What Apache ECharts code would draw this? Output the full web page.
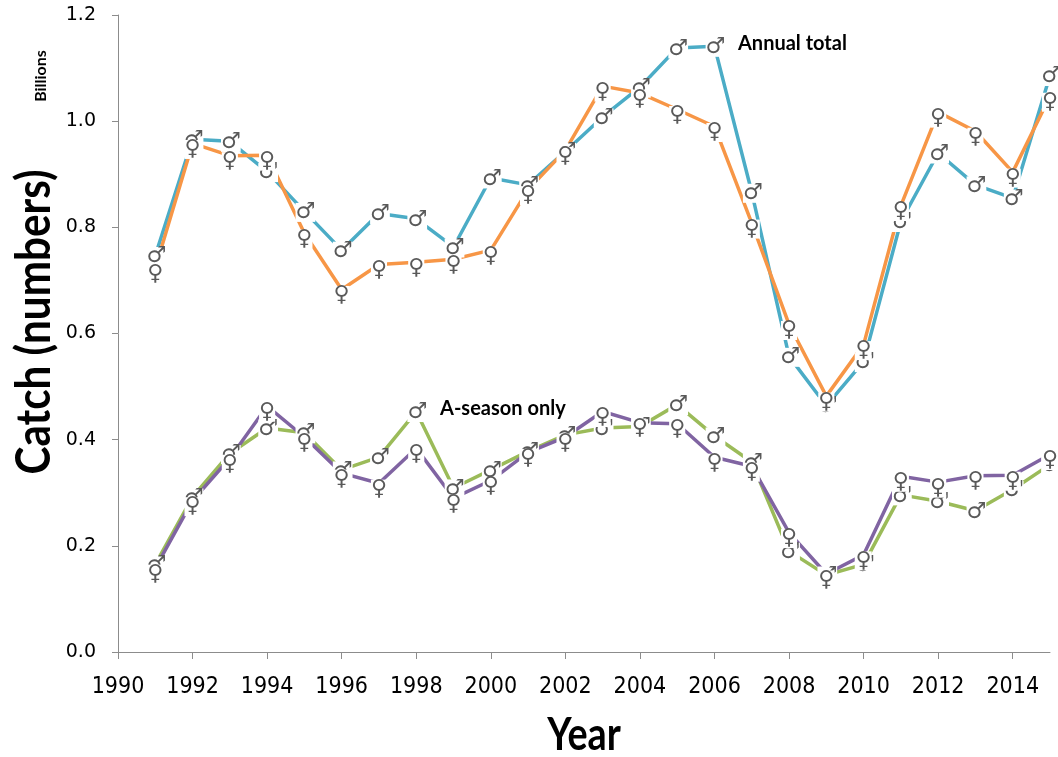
<!DOCTYPE html>
<html>
<head>
<meta charset="utf-8">
<script src="https://cdn.jsdelivr.net/npm/echarts@6/dist/echarts.min.js"></script>
<style>
html,body{margin:0;padding:0;background:#fff;}
#chart{width:1058px;height:757px;}
</style>
</head>
<body>
<div id="chart"></div>
<script>
// ---- data ----
var years = [1991,1992,1993,1994,1995,1996,1997,1998,1999,2000,2001,2002,2003,2004,2005,2006,2007,2008,2009,2010,2011,2012,2013,2014,2015];
var maleAnnual   = [0.747,0.966,0.962,0.905,0.830,0.757,0.826,0.816,0.763,0.893,0.880,0.943,1.008,1.064,1.138,1.141,0.866,0.557,0.464,0.547,0.811,0.940,0.880,0.855,1.086];
var femaleAnnual = [0.723,0.958,0.935,0.936,0.789,0.683,0.730,0.734,0.740,0.757,0.871,0.945,1.066,1.053,1.022,0.990,0.808,0.617,0.482,0.579,0.841,1.017,0.981,0.904,1.047];
var maleASeason  = [0.165,0.292,0.374,0.422,0.413,0.343,0.367,0.453,0.309,0.343,0.378,0.409,0.422,0.425,0.466,0.407,0.358,0.190,0.145,0.165,0.296,0.284,0.266,0.306,0.353];
var femaleASeason= [0.158,0.285,0.365,0.463,0.405,0.337,0.318,0.384,0.290,0.323,0.376,0.405,0.453,0.432,0.430,0.367,0.350,0.225,0.147,0.183,0.331,0.320,0.332,0.333,0.372];
var xTickValues = [1990,1992,1994,1996,1998,2000,2002,2004,2006,2008,2010,2012,2014];
var MALE = '\u2642', FEMALE = '\u2640';

function pairs(vals){ return years.map(function(y,i){ return [y, vals[i]]; }); }

function series(name, vals, color, glyph){
  var isMale = glyph === MALE;
  return {
    name: name, type: 'line', data: pairs(vals),
    symbol: 'circle', symbolSize: 2, showSymbol: true,
    itemStyle: { color: 'rgba(255,255,255,0)', borderWidth: 0 },
    lineStyle: { color: color, width: 3.5 },
    emphasis: { disabled: true },
    label: {
      show: true, position: 'inside',
      formatter: glyph,
      fontFamily: 'DejaVu Sans', fontSize: 22,
      color: '#595959',
      backgroundColor: '#ffffff',
      lineHeight: 19,
      padding: [0, 0],
      offset: isMale ? [1, 1] : [0, 6]
    }
  };
}

var chart = echarts.init(document.getElementById('chart'), null, {renderer: 'canvas'});
chart.setOption({
  animation: false,
  backgroundColor: '#ffffff',
  grid: { left: 118, right: 8, top: 15, bottom: 105, containLabel: false },
  xAxis: {
    type: 'value', min: 1990, max: 2015, interval: 2,
    splitLine: { show: false },
    axisLine: { lineStyle: { color: '#8c8c8c', width: 1 } },
    axisTick: { show: true, length: 7, lineStyle: { color: '#8c8c8c' }, customValues: xTickValues },
    axisLabel: {
      customValues: xTickValues,
      color: '#000', fontFamily: "'DejaVu Sans Condensed', Roboto", fontSize: 23, margin: 24,
      formatter: function(v){ return String(v); }
    }
  },
  yAxis: {
    type: 'value', min: 0, max: 1.2, interval: 0.2,
    splitLine: { show: false },
    axisLine: { show: true, lineStyle: { color: '#8c8c8c', width: 1 } },
    axisTick: { show: true, length: 6, lineStyle: { color: '#8c8c8c' } },
    axisLabel: {
      color: '#000', fontFamily: 'DejaVu Sans', fontSize: 19, margin: 22,
      formatter: function(v){ return v.toFixed(1); }
    }
  },
  series: [
    series('Male annual', maleAnnual, '#4BACC6', MALE),
    series('Female annual', femaleAnnual, '#F79646', FEMALE),
    series('Male A-season', maleASeason, '#9BBB59', MALE),
    series('Female A-season', femaleASeason, '#8064A2', FEMALE)
  ],
  graphic: [
    { type: 'text', left: 738, top: 34, style: { text: 'Annual total', font: 'bold 20px Lato', fill: '#000' } },
    { type: 'text', left: 440, top: 399, style: { text: 'A-season only', font: 'bold 20px Lato', fill: '#000' } },
    { type: 'text', x: 584, y: 735, scaleX: 0.82,
      style: { text: 'Year', font: 'bold 46px Lato', fill: '#000', align: 'center', verticalAlign: 'middle' } },
    { type: 'text', x: 35, y: 322, rotation: Math.PI/2, scaleX: 0.88,
      style: { text: 'Catch (numbers)', font: 'bold 48px Lato', fill: '#000', align: 'center', verticalAlign: 'middle' } },
    { type: 'text', x: 41, y: 76, rotation: Math.PI/2,
      style: { text: 'Billions', font: 'bold 16px Lato', fill: '#000', align: 'center', verticalAlign: 'middle' } }
  ]
});
</script>
</body>
</html>
